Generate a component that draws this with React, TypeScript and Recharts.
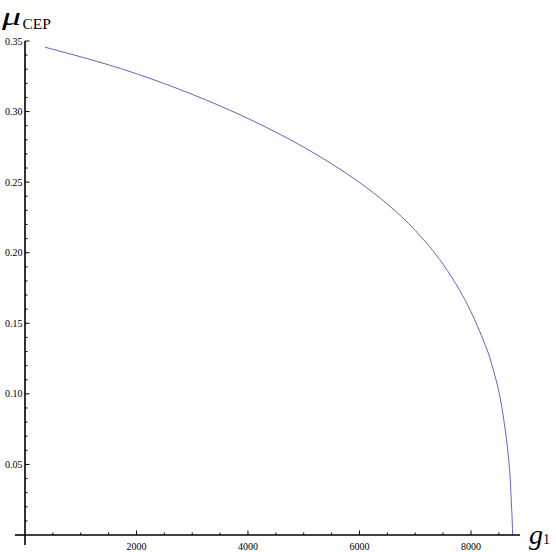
import { LineChart, Line, XAxis, YAxis } from 'recharts'

// curve: g1 vs mu_CEP
const g1 = [
  359, 500, 1000, 1500, 2000, 2500, 3000, 3500, 4000, 4500, 5000, 5500, 6000, 6500, 7000, 7500,
  7800, 8000, 8250, 8320, 8400, 8500, 8550, 8600, 8650, 8680, 8700, 8730, 8742, 8748,
]
const muCEP = [
  0.3456, 0.3441, 0.3388, 0.3331, 0.3268, 0.3198, 0.3122, 0.304, 0.2951, 0.2854, 0.2748, 0.263,
  0.2498, 0.2345, 0.2158, 0.1918, 0.1732, 0.1582, 0.1352, 0.1279, 0.1172, 0.1017, 0.0915, 0.0787,
  0.0637, 0.052, 0.0427, 0.0187, 0.008, 0,
]

const xMajor = [2000, 4000, 6000, 8000]
const xTicks = [500, 1000, 1500, 2000, 2500, 3000, 3500, 4000, 4500, 5000, 5500, 6000, 6500, 7000, 7500, 8000, 8500]
const yMajor = [0.05, 0.1, 0.15, 0.2, 0.25, 0.3, 0.35]
const yTicks = [
  0.01, 0.02, 0.03, 0.04, 0.05, 0.06, 0.07, 0.08, 0.09, 0.1, 0.11, 0.12, 0.13, 0.14, 0.15, 0.16, 0.17,
  0.18, 0.19, 0.2, 0.21, 0.22, 0.23, 0.24, 0.25, 0.26, 0.27, 0.28, 0.29, 0.3, 0.31, 0.32, 0.33, 0.34, 0.35,
]

const data = g1.map((g, i) => ({ g, mu: muCEP[i] }))

const font = '"Liberation Serif", "DejaVu Serif", serif'

const XTick = (props: any) => {
  const { x, y, payload } = props
  const major = xMajor.includes(payload.value)
  return (
    <g>
      <line x1={x} x2={x} y1={y} y2={y - (major ? 4.5 : 2.5)} stroke="#000" strokeWidth={1} />
      {major && (
        <text x={x} y={y + 15} textAnchor="middle" fontSize={10} fontFamily={font} fill="#000">
          {payload.value}
        </text>
      )}
    </g>
  )
}

const YTick = (props: any) => {
  const { x, y, payload } = props
  const major = yMajor.includes(payload.value)
  return (
    <g>
      <line x1={x} x2={x + (major ? 4.5 : 2.5)} y1={y} y2={y} stroke="#000" strokeWidth={1} />
      {major && (
        <text x={x - 2.5} y={y} dy="0.35em" textAnchor="end" fontSize={10} fontFamily={font} fill="#000">
          {payload.value.toFixed(2)}
        </text>
      )}
    </g>
  )
}

export default function App() {
  return (
    <div style={{ position: 'absolute', left: 0, top: 0, width: 556, height: 552, background: '#fff' }}>
      <LineChart width={556} height={552} data={data} margin={{ top: 41, right: 36, left: 0, bottom: 0 }}>
        <XAxis
          dataKey="g"
          type="number"
          domain={[0, 8880]}
          ticks={xTicks}
          interval={0}
          tick={<XTick />}
          tickLine={false}
          tickSize={0}
          tickMargin={0}
          height={17}
          axisLine={{ stroke: '#000', strokeWidth: 1.6 }}
          allowDataOverflow
        />
        <YAxis
          type="number"
          domain={[0, 0.35]}
          ticks={yTicks}
          interval={0}
          tick={<YTick />}
          tickLine={false}
          tickSize={0}
          tickMargin={0}
          width={25}
          axisLine={{ stroke: '#000', strokeWidth: 1.6 }}
          allowDataOverflow
        />
        <Line
          dataKey="mu"
          type="monotone"
          stroke="#6464c0"
          strokeWidth={1}
          dot={false}
          isAnimationActive={false}
        />
      </LineChart>
      <svg
        width={556}
        height={552}
        style={{ position: 'absolute', left: 0, top: 0, pointerEvents: 'none' }}
      >
        <line x1={15} x2={25} y1={535} y2={535} stroke="#000" strokeWidth={1.6} />
        <line x1={25} x2={25} y1={535} y2={545} stroke="#000" strokeWidth={1.6} />
        <text
          x={2}
          y={25}
          fontSize={26}
          fontStyle="italic"
          fontFamily={font}
          fill="#000"
          textLength={19}
          lengthAdjust="spacingAndGlyphs"
        >
          μ
        </text>
        <text x={22.5} y={28.5} fontSize={15.5} fontFamily={font} fill="#000">
          CEP
        </text>
        <text x={529} y={544} fontSize={28} fontStyle="italic" fontFamily={font} fill="#000">
          g
        </text>
        <text x={543} y={543.5} fontSize={14} fontFamily={font} fill="#000">
          1
        </text>
      </svg>
    </div>
  )
}
